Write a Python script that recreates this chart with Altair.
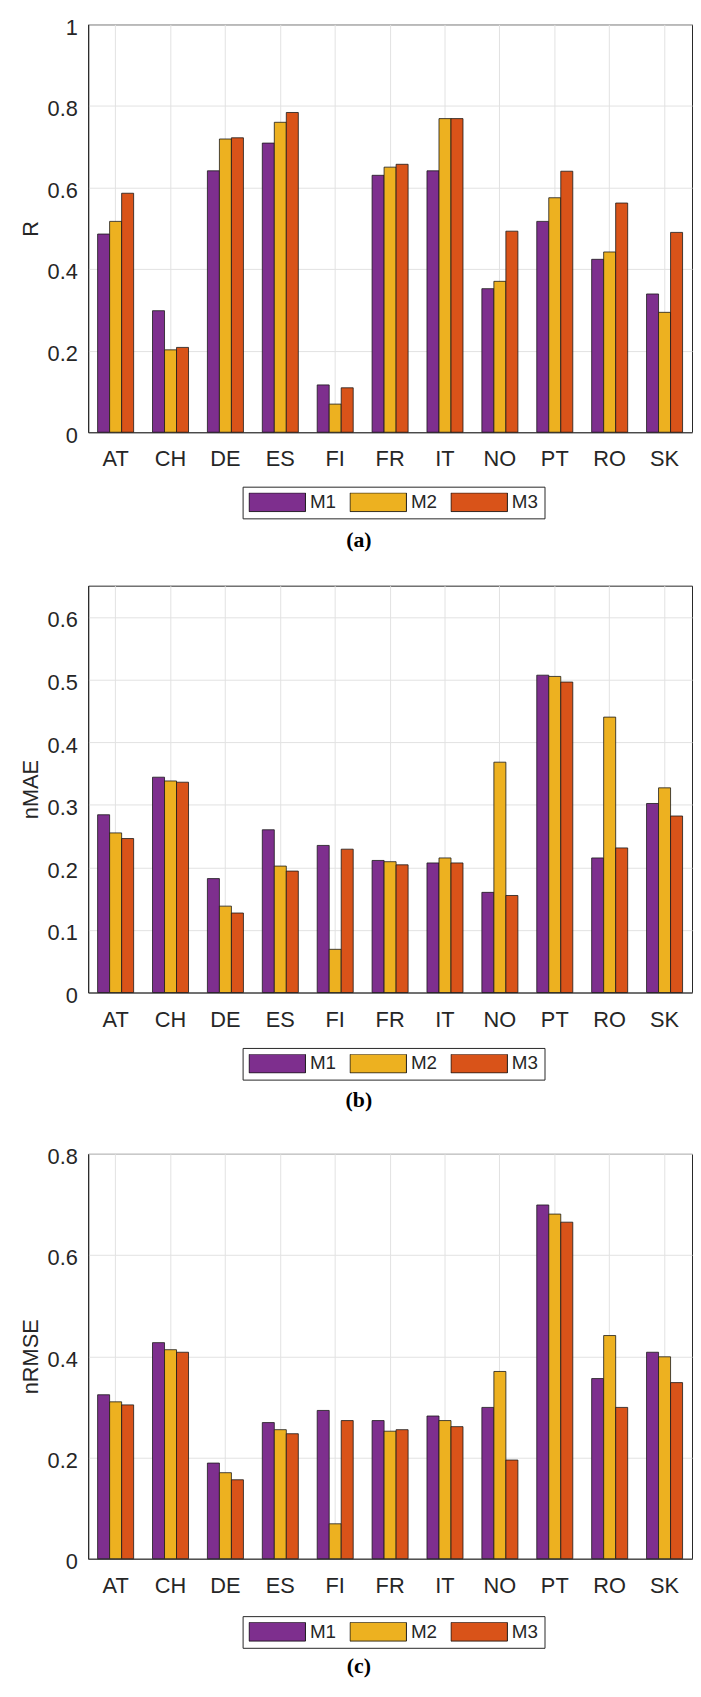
import altair as alt
import pandas as pd

countries = ["AT", "CH", "DE", "ES", "FI", "FR", "IT", "NO", "PT", "RO", "SK"]
models = ["M1", "M2", "M3"]
colors = ["#7E2F8E", "#EDB120", "#D95319"]

# Panel (a): R
r_m1 = [0.486, 0.298, 0.641, 0.709, 0.116, 0.630, 0.641, 0.352, 0.517, 0.424, 0.339]
r_m2 = [0.517, 0.202, 0.719, 0.760, 0.069, 0.650, 0.769, 0.370, 0.575, 0.442, 0.294]
r_m3 = [0.586, 0.208, 0.722, 0.784, 0.109, 0.657, 0.769, 0.493, 0.640, 0.562, 0.490]

# Panel (b): nMAE
mae_m1 = [0.284, 0.344, 0.182, 0.260, 0.235, 0.211, 0.207, 0.160, 0.507, 0.215, 0.302]
mae_m2 = [0.255, 0.338, 0.138, 0.202, 0.069, 0.209, 0.215, 0.368, 0.505, 0.440, 0.327]
mae_m3 = [0.246, 0.336, 0.127, 0.194, 0.229, 0.204, 0.207, 0.155, 0.496, 0.231, 0.282]

# Panel (c): nRMSE
rmse_m1 = [0.324, 0.427, 0.189, 0.269, 0.293, 0.273, 0.282, 0.299, 0.699, 0.356, 0.408]
rmse_m2 = [0.310, 0.413, 0.170, 0.255, 0.069, 0.252, 0.273, 0.370, 0.681, 0.441, 0.399]
rmse_m3 = [0.304, 0.408, 0.156, 0.247, 0.273, 0.255, 0.261, 0.195, 0.665, 0.299, 0.348]

r_ticks = [0, 0.2, 0.4, 0.6, 0.8, 1.0]
mae_ticks = [0, 0.1, 0.2, 0.3, 0.4, 0.5, 0.6]
rmse_ticks = [0, 0.2, 0.4, 0.6, 0.8]

TXT = "#262626"
SANS = "Liberation Sans"
SERIF = "Liberation Serif"


def panel(series, ytitle, domain, ticks, height, caption):
    rows = []
    for m, vals in zip(models, series):
        for c, v in zip(countries, vals):
            rows.append({"country": c, "model": m, "value": v})
    df = pd.DataFrame(rows)
    return alt.Chart(df).mark_bar(stroke="#1a1a1a", strokeWidth=0.8).encode(
        x=alt.X(
            "country:N",
            sort=countries,
            scale=alt.Scale(paddingInner=0, paddingOuter=0),
            axis=alt.Axis(
                title=caption,
                labelAngle=0,
                ticks=False,
                labelPadding=17,
                labelFontSize=22,
                labelFont=SANS,
                labelColor=TXT,
                grid=True,
                bandPosition=0.5,
                gridColor="#e2e2e2",
                domainColor=TXT,
                titleFont=SERIF,
                titleFontSize=22,
                titleFontWeight="bold",
                titleColor="black",
                titleX=273,
                titleY=115,
                titleBaseline="alphabetic",
            ),
        ),
        xOffset=alt.XOffset(
            "model:N", sort=models,
            scale=alt.Scale(paddingInner=0, paddingOuter=0.786),
        ),
        y=alt.Y(
            "value:Q",
            scale=alt.Scale(domain=domain, nice=False, zero=True),
            axis=alt.Axis(
                title=ytitle,
                values=ticks,
                format=".1~f",
                ticks=False,
                labelPadding=11,
                labelOffset=3,
                labelFontSize=22,
                labelFont=SANS,
                labelColor=TXT,
                grid=True,
                gridColor="#e2e2e2",
                domainColor=TXT,
                titleFont=SANS,
                titleFontSize=22,
                titleFontWeight="normal",
                titleColor=TXT,
                titlePadding=5,
            ),
        ),
        color=alt.Color(
            "model:N",
            scale=alt.Scale(domain=models, range=colors),
            legend=alt.Legend(
                title=None,
                orient="none",
                legendX=156,
                legendY=467,
                direction="horizontal",
                symbolType="M-1.5,-0.5H1.5V0.5H-1.5Z",
                symbolSize=1444,
                symbolOffset=9.5,
                clipHeight=19,
                symbolStrokeColor="#1a1a1a",
                symbolStrokeWidth=1,
                symbolOpacity=1,
                labelFontSize=19,
                labelFont=SANS,
                labelColor=TXT,
                labelOffset=13.5,
                columnPadding=13,
                padding=6,
                strokeColor=TXT,
                fillColor="white",
            ),
        ),
    ).properties(width=610, height=height)


pa = panel([r_m1, r_m2, r_m3], "R", [0, 1], r_ticks, 412, "(a)")
pb = panel([mae_m1, mae_m2, mae_m3], "nMAE", [0, 0.65], mae_ticks, 411, "(b)")
pc = panel([rmse_m1, rmse_m2, rmse_m3], "nRMSE", [0, 0.8], rmse_ticks, 409, "(c)")

chart = alt.vconcat(pa, pb, pc, spacing=34).resolve_scale(
    color="independent", x="independent", y="independent"
).resolve_legend(color="independent").properties(
    padding={"left": 10, "top": -1, "right": 0, "bottom": 0}
).configure_view(stroke=TXT, strokeWidth=1)

chart.save("out.html", embed_options={"renderer": "svg", "actions": False})
